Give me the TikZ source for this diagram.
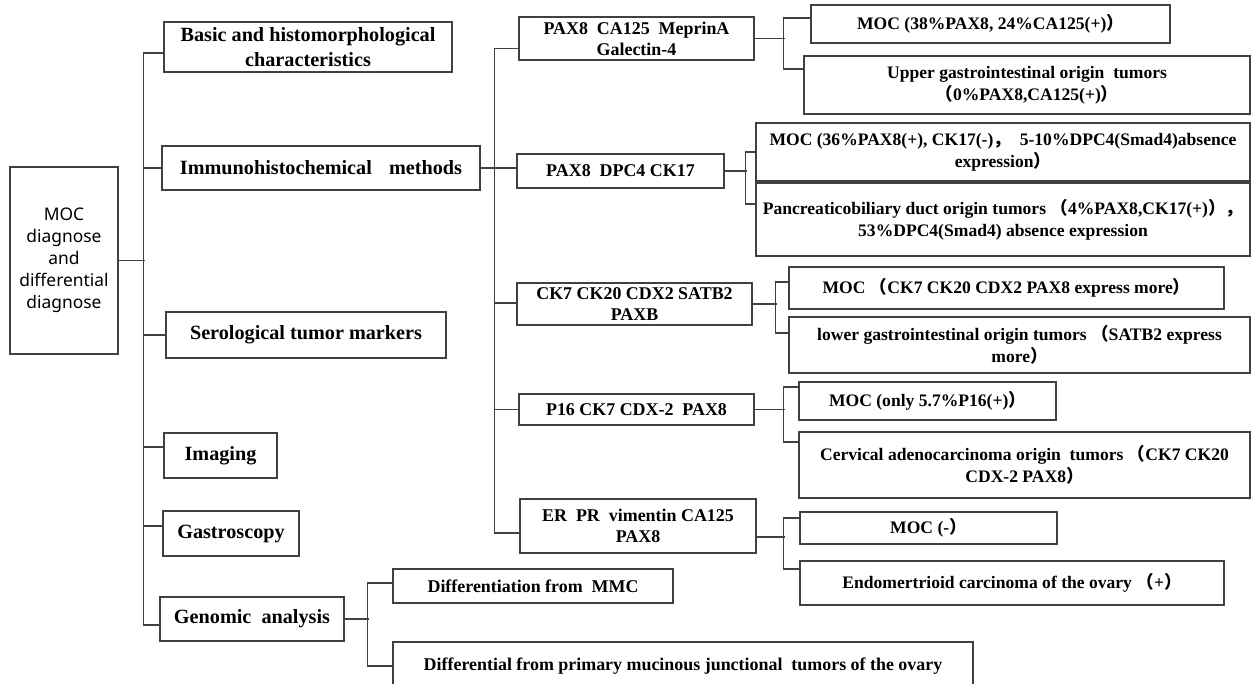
\documentclass[tikz,border=0pt]{standalone}
\usepackage{fontspec}
\setmainfont{Liberation Serif}
\newfontfamily\rootfont{Noto Sans}
\newfontfamily\cjkfont{Noto Sans CJK SC}
\newcommand{\zlp}{{\cjkfont （}}
\newcommand{\zrp}{{\cjkfont ）}}
\newcommand{\zcm}{{\cjkfont ，}}

\begin{document}
\begin{tikzpicture}[
  rootbox/.style={rectangle,draw=black!75,line width=0.6pt,inner sep=0pt,align=center,
                  font=\rootfont\fontsize{9.9}{12.5}\selectfont},
  lvlone/.style={rectangle,draw=black!75,line width=0.6pt,inner sep=0pt,align=center,
                 font=\bfseries\fontsize{11.5}{14.2}\selectfont},
  lvltwo/.style={rectangle,draw=black!75,line width=0.6pt,inner sep=0pt,align=center,
                 font=\bfseries\fontsize{10.2}{12}\selectfont},
  lvlthree/.style={rectangle,draw=black!75,line width=0.6pt,inner sep=0pt,align=center,
                   font=\bfseries\fontsize{10}{12.3}\selectfont},
  link/.style={draw=black!75,line width=0.6pt}
]
  \useasboundingbox (0,0) rectangle (25.04,-13.66);

  \node[rootbox,minimum width=2.16cm,minimum height=3.74cm] (root) at (1.28,-5.21) {MOC\\diagnose\\and\\differential\\diagnose};

  \node[lvlone,minimum width=5.76cm,minimum height=1.00cm] (basic) at (6.16,-0.94) {Basic and histomorphological\\characteristics};
  \node[lvlone,minimum width=6.36cm,minimum height=0.88cm] (immuno) at (6.42,-3.36) {Immunohistochemical\hspace{0.6em} methods};
  \node[lvlone,minimum width=5.60cm,minimum height=0.92cm] (sero) at (6.12,-6.70) {Serological tumor\ markers};
  \node[lvlone,minimum width=2.26cm,minimum height=0.90cm] (imaging) at (4.41,-9.11) {Imaging};
  \node[lvlone,minimum width=2.72cm,minimum height=0.90cm] (gastro) at (4.62,-10.67) {Gastroscopy};
  \node[lvlone,minimum width=3.68cm,minimum height=0.88cm] (genomic) at (5.04,-12.38) {Genomic\ \ analysis};

  \node[lvltwo,minimum width=4.70cm,minimum height=0.86cm] (pax) at (12.73,-0.77) {PAX8\ \ CA125\ \ MeprinA\\Galectin-4};
  \node[lvltwo,minimum width=4.14cm,minimum height=0.68cm] (dpc) at (12.41,-3.42) {PAX8\ \ DPC4 CK17};
  \node[lvltwo,minimum width=4.70cm,minimum height=0.84cm] (ck) at (12.69,-6.08) {CK7 CK20 CDX2 SATB2\\PAXB};
  \node[lvltwo,minimum width=4.70cm,minimum height=0.62cm] (p16) at (12.73,-8.19) {P16 CK7 CDX-2\ \ PAX8};
  \node[lvltwo,minimum width=4.72cm,minimum height=1.08cm] (er) at (12.76,-10.52) {ER\ \ PR\ \ vimentin CA125\\PAX8};
  \node[lvltwo,minimum width=5.60cm,minimum height=0.68cm] (mmc) at (10.66,-11.72) {Differentiation from\ \ MMC};
  \node[lvltwo,minimum width=11.60cm,minimum height=0.96cm] (junc) at (13.66,-13.32) {Differential from primary mucinous junctional\ \ tumors of the ovary};

  \node[lvlthree,minimum width=7.18cm,minimum height=0.76cm] (moca) at (19.81,-0.48) {MOC (38\%PAX8, 24\%CA125(+)\zrp};
  \node[lvlthree,minimum width=8.92cm,minimum height=1.16cm] (upper) at (20.54,-1.70) {Upper gastrointestinal origin\ \ tumors\\\zlp 0\%PAX8,CA125(+)\zrp};
  \node[lvlthree,minimum width=9.88cm,minimum height=1.16cm] (mocb) at (20.06,-3.04) {MOC (36\%PAX8(+), CK17(-)\zcm\ \ 5-10\%DPC4(Smad4)absence\\expression\zrp};
  \node[lvlthree,minimum width=9.88cm,minimum height=1.46cm] (panc) at (20.06,-4.39) {Pancreaticobiliary duct origin tumors \zlp 4\%PAX8,CK17(+)\zrp\zcm\\53\%DPC4(Smad4) absence expression};
  \node[lvlthree,minimum width=8.70cm,minimum height=0.84cm] (mocc) at (20.13,-5.76) {MOC \zlp CK7 CK20 CDX2 PAX8 express more\zrp};
  \node[lvlthree,minimum width=9.22cm,minimum height=1.12cm] (lower) at (20.39,-6.90) {lower gastrointestinal origin tumors \zlp SATB2 express\\more\zrp};
  \node[lvlthree,minimum width=5.14cm,minimum height=0.76cm] (mocd) at (18.55,-8.02) {MOC (only 5.7\%P16(+)\zrp};
  \node[lvlthree,minimum width=9.02cm,minimum height=1.32cm] (cerv) at (20.49,-9.30) {Cervical adenocarcinoma origin\ \ tumors \zlp CK7 CK20\\CDX-2 PAX8\zrp};
  \node[lvlthree,minimum width=5.14cm,minimum height=0.64cm] (moce) at (18.57,-10.56) {MOC (-\zrp};
  \node[lvlthree,minimum width=8.48cm,minimum height=0.88cm] (endo) at (20.24,-11.66) {Endomertrioid carcinoma of the ovary \zlp +\zrp};

  \draw[link] (root.east) -- ++(0.52,0);
  \draw[link] ([yshift=-0.12cm]basic.west) -- ++(-0.40,0) |- ([yshift=-0.12cm]genomic.west);
  \draw[link] (immuno.west) -- ++(-0.36,0);
  \draw[link] (sero.west) -- ++(-0.44,0);
  \draw[link] ([yshift=0.17cm]imaging.west) -- ++(-0.40,0);
  \draw[link] ([yshift=0.15cm]gastro.west) -- ++(-0.38,0);

  \draw[link] (immuno.east) -- (immuno.east -| dpc.west);
  \draw[link] ([yshift=-0.2cm]pax.west) -- ++(-0.48,0) |- ([yshift=-0.14cm]er.west);
  \draw[link] ([yshift=0.02cm]ck.west) -- ++(-0.44,0);
  \draw[link] (p16.west) -- ++(-0.48,0);

  \draw[link] (pax.east) -- ++(0.60,0);
  \draw[link] ([yshift=0.12cm]moca.west) -- ++(-0.54,0) |- ([yshift=0.32cm]upper.west);
  \draw[link] (dpc.east) -- ++(0.44,0);
  \draw[link] (mocb.west) -- ++(-0.20,0) |- ([yshift=0.31cm]panc.west);
  \draw[link] (ck.east) -- ++(0.48,0);
  \draw[link] ([yshift=0.12cm]mocc.west) -- ++(-0.26,0) |- ([yshift=0.24cm]lower.west);
  \draw[link] (p16.east) -- ++(0.60,0);
  \draw[link] ([yshift=0.28cm]mocd.west) -- ++(-0.30,0) |- ([yshift=0.46cm]cerv.west);
  \draw[link] ([yshift=-0.22cm]er.east) -- ++(0.56,0);
  \draw[link] ([yshift=0.20cm]moce.west) -- ++(-0.32,0) |- ([yshift=0.28cm]endo.west);
  \draw[link] (genomic.east) -- ++(0.48,0);
  \draw[link] ([yshift=0.06cm]mmc.west) -- ++(-0.50,0) |- (junc.west);
\end{tikzpicture}
\end{document}
